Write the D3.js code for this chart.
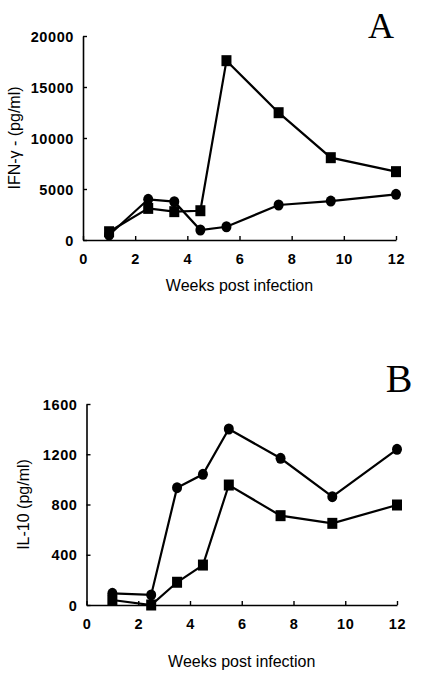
<!DOCTYPE html>
<html>
<head>
<meta charset="utf-8">
<script src="https://cdn.jsdelivr.net/npm/d3@7"></script>
<style>
html,body{margin:0;padding:0;background:#fff;}
svg{display:block;}
</style>
</head>
<body>
<svg id="chart" width="423" height="678"></svg>
<script>
// Data
const weeks = [1, 2.5, 3.5, 4.5, 5.5, 7.5, 9.5, 12];
const ifnSquares = [810, 3100, 2780, 2870, 17580, 12480, 8070, 6700];
const ifnCircles = [490, 3990, 3760, 980, 1300, 3430, 3820, 4480];
const il10Circles = [93, 80, 934, 1040, 1401, 1168, 862, 1239];
const il10Squares = [40, 0, 181, 318, 955, 711, 650, 796];
const xTicks = [0, 2, 4, 6, 8, 10, 12];
const ifnTicks = [0, 5000, 10000, 15000, 20000];
const il10Ticks = [0, 400, 800, 1200, 1600];

const svg = d3.select("#chart");

function panel(cfg) {
  const x = d3.scaleLinear().domain([0, 12]).range([cfg.x0, cfg.x1]);
  const y = d3.scaleLinear().domain([0, cfg.ymax]).range([cfg.y0, cfg.y1]);
  const g = svg.append("g");

  // axes
  const xa = g.append("g").attr("transform", `translate(0,${cfg.y0})`)
    .call(d3.axisBottom(x).tickValues(xTicks).tickSizeInner(-4).tickSizeOuter(0).tickPadding(14));
  const ya = g.append("g").attr("transform", `translate(${cfg.x0},0)`)
    .call(d3.axisLeft(y).tickValues(cfg.ticks).tickSizeInner(-4).tickSizeOuter(0).tickPadding(9).tickFormat(d3.format("d")));
  [xa, ya].forEach(a => {
    a.select(".domain").attr("stroke", "#000").attr("stroke-width", 1.6);
    a.selectAll(".tick line").attr("stroke", "#000").attr("stroke-width", 1.4);
    a.selectAll(".tick text").attr("fill", "#000")
      .style("font-family", "'Liberation Sans', Arial, sans-serif")
      .style("font-weight", "bold").style("font-size", "14.5px").style("letter-spacing", "0.6px");
  });
  ya.selectAll(".tick text").attr("dy", "0.36em");

  // lines and markers
  const line = d3.line().x((d, i) => x(weeks[i])).y(d => y(d));
  cfg.series.forEach(s => {
    g.append("path").datum(s.values).attr("d", line)
      .attr("fill", "none").attr("stroke", "#000").attr("stroke-width", 2.2);
  });
  cfg.series.forEach(s => {
    if (s.shape === "square") {
      g.selectAll(null).data(s.values).enter().append("rect")
        .attr("x", (d, i) => x(weeks[i]) - 5).attr("y", d => y(d) - 5.5)
        .attr("width", 10).attr("height", 11).attr("fill", "#000");
    } else {
      g.selectAll(null).data(s.values).enter().append("ellipse")
        .attr("cx", (d, i) => x(weeks[i])).attr("cy", d => y(d))
        .attr("rx", 5).attr("ry", 5.5).attr("fill", "#000");
    }
  });

  // labels
  g.append("text").attr("x", (cfg.x0 + cfg.x1) / 2).attr("y", cfg.xlabY)
    .attr("text-anchor", "middle")
    .style("font-family", "'Liberation Sans', Arial, sans-serif").style("font-size", "16px")
    .text("Weeks post infection");
  g.append("text").attr("transform", `translate(${cfg.ylabX},${(cfg.y0 + cfg.y1) / 2}) rotate(-90)`)
    .attr("text-anchor", "middle")
    .style("font-family", "'Liberation Sans', Arial, sans-serif").style("font-size", "16px")
    .text(cfg.ylabel);
  g.append("text").attr("x", cfg.letterX).attr("y", cfg.letterY)
    .attr("text-anchor", "middle")
    .style("font-family", "'Liberation Serif', 'Times New Roman', serif").style("font-size", cfg.letterSize + "px")
    .text(cfg.letter);
}

panel({
  x0: 83, x1: 396, y0: 240, y1: 36, ymax: 20000, ticks: ifnTicks,
  series: [{shape: "square", values: ifnSquares}, {shape: "circle", values: ifnCircles}],
  xlabY: 291, ylabX: 20, ylabel: "IFN-γ - (pg/ml)",
  letter: "A", letterX: 381, letterY: 38, letterSize: 36
});

panel({
  x0: 86.5, x1: 397, y0: 605, y1: 404, ymax: 1600, ticks: il10Ticks,
  series: [{shape: "circle", values: il10Circles}, {shape: "square", values: il10Squares}],
  xlabY: 667, ylabX: 29, ylabel: "IL-10 (pg/ml)",
  letter: "B", letterX: 399, letterY: 392, letterSize: 40
});
</script>
</body>
</html>
